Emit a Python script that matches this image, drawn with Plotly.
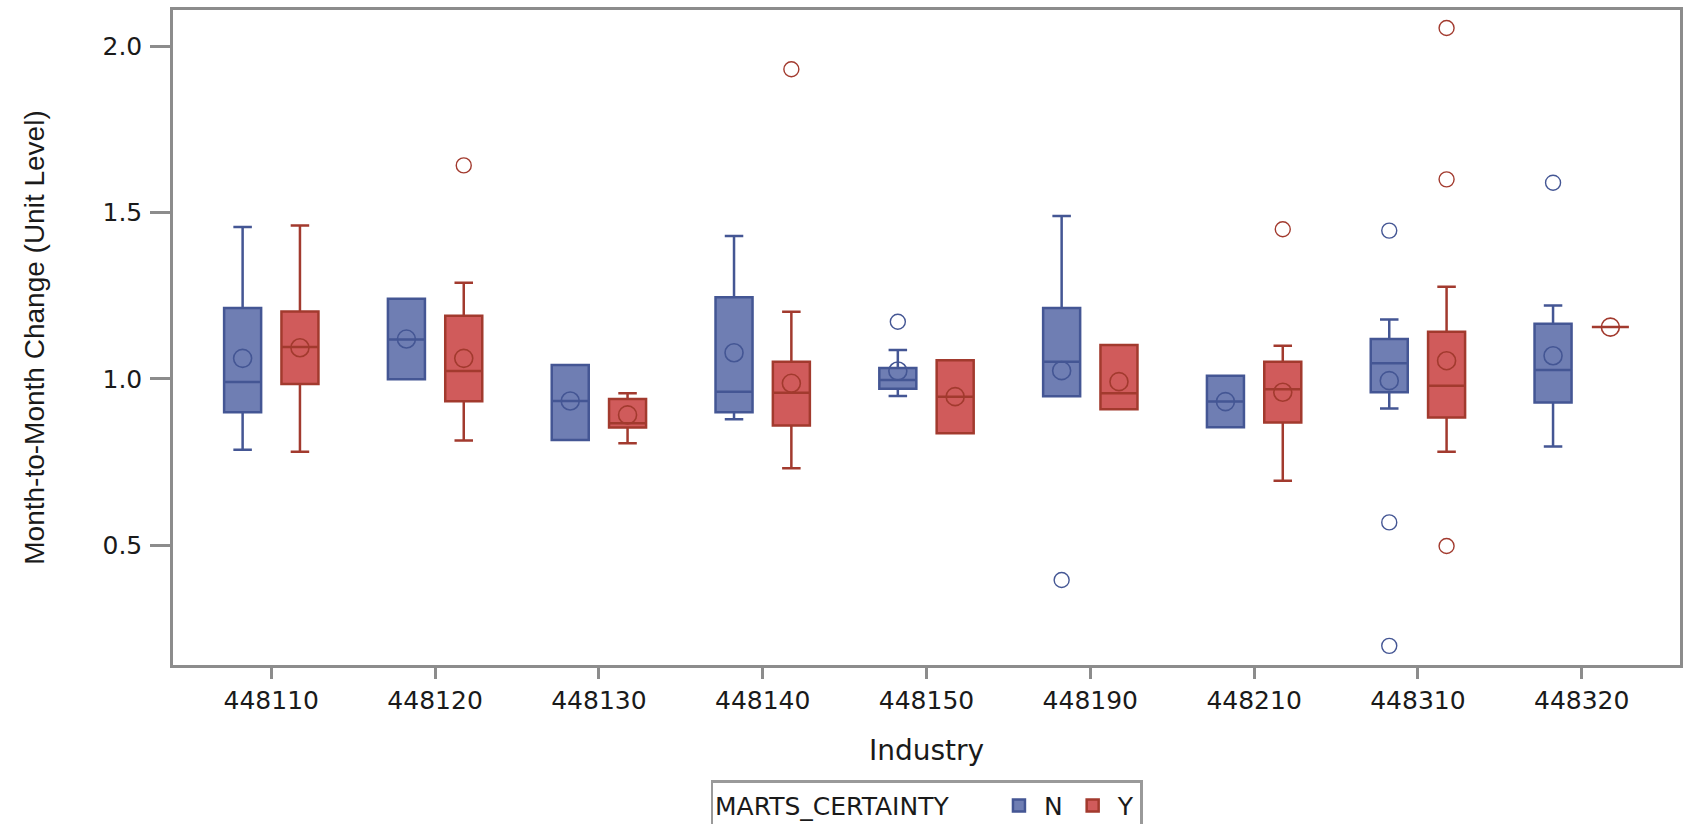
import plotly.graph_objects as go

# ---------------- data ----------------
categories = ['448110', '448120', '448130', '448140', '448150',
              '448190', '448210', '448310', '448320']

# group N
N_q1     = [0.900, 0.999, 0.817, 0.900, 0.971, 0.948, 0.855, 0.960, 0.929]
N_median = [0.991, 1.119, 0.934, 0.962, 0.997, 1.052, 0.932, 1.047, 1.027]
N_q3     = [1.213, 1.241, 1.042, 1.246, 1.033, 1.213, 1.010, 1.120, 1.166]
N_low    = [0.787, 0.999, 0.817, 0.879, 0.949, 0.948, 0.855, 0.911, 0.797]
N_high   = [1.457, 1.241, 1.042, 1.430, 1.087, 1.490, 1.010, 1.179, 1.221]
N_mean   = [1.062, 1.120, 0.934, 1.079, 1.024, 1.025, 0.932, 0.995, 1.070]

# group Y
Y_q1     = [0.985, 0.933, 0.854, 0.860, 0.837, 0.909, 0.869, 0.884, 1.156]
Y_median = [1.096, 1.024, 0.867, 0.959, 0.947, 0.957, 0.969, 0.980, 1.156]
Y_q3     = [1.203, 1.190, 0.940, 1.052, 1.056, 1.102, 1.052, 1.142, 1.156]
Y_low    = [0.781, 0.815, 0.807, 0.732, 0.837, 0.909, 0.694, 0.781, 1.156]
Y_high   = [1.461, 1.289, 0.957, 1.202, 1.056, 1.102, 1.100, 1.277, 1.156]
Y_mean   = [1.094, 1.062, 0.892, 0.987, 0.947, 0.992, 0.960, 1.055, 1.156]

# outliers
N_out_cat = ['448150', '448190', '448310', '448310', '448310', '448320']
N_out_val = [1.172, 0.396, 1.446, 0.569, 0.198, 1.590]
Y_out_cat = ['448120', '448140', '448210', '448310', '448310', '448310']
Y_out_val = [1.642, 1.931, 1.450, 2.055, 1.600, 0.498]

y_ticks = [0.5, 1.0, 1.5, 2.0]

# ---------------- style ----------------
FILL = {'N': '#6F7EB3', 'Y': '#D05B5B'}
LINE = {'N': '#445694', 'Y': '#A23A2E'}
OFFSET = {'N': -0.175, 'Y': 0.175}
BOX_W = 0.226
AXIS_COL = '#8C8C8C'
TXT = '#1a1a1a'

groups = {
    'N': dict(q1=N_q1, med=N_median, q3=N_q3, lo=N_low, hi=N_high, mean=N_mean,
              oc=N_out_cat, ov=N_out_val),
    'Y': dict(q1=Y_q1, med=Y_median, q3=Y_q3, lo=Y_low, hi=Y_high, mean=Y_mean,
              oc=Y_out_cat, ov=Y_out_val),
}

fig = go.Figure()
for g, d in groups.items():
    xpos = [i + OFFSET[g] for i in range(len(categories))]
    fig.add_trace(go.Box(
        name=g, x=xpos, q1=d['q1'], median=d['med'], q3=d['q3'],
        lowerfence=d['lo'], upperfence=d['hi'],
        width=BOX_W, whiskerwidth=0.5, boxpoints=False,
        fillcolor=FILL[g], line=dict(color=LINE[g], width=2.5),
        legendgroup=g, showlegend=True,
    ))
for g, d in groups.items():
    xpos = [i + OFFSET[g] for i in range(len(categories))]
    fig.add_trace(go.Scatter(
        x=xpos, y=d['mean'], mode='markers', showlegend=False, legendgroup=g,
        marker=dict(symbol='circle-open', size=18, color=LINE[g],
                    line=dict(width=1.6)),
    ))
    ox = [categories.index(c) + OFFSET[g] for c in d['oc']]
    fig.add_trace(go.Scatter(
        x=ox, y=d['ov'], mode='markers', showlegend=False, legendgroup=g,
        marker=dict(symbol='circle-open', size=15, color=LINE[g],
                    line=dict(width=1.4)),
    ))

fig.update_layout(
    width=1685, height=824,
    margin=dict(l=173, r=5, t=10, b=159, autoexpand=False),
    paper_bgcolor='white', plot_bgcolor='white',
    boxmode='overlay',
    font=dict(family='DejaVu Sans', color=TXT),
    legend=dict(
        orientation='h', x=0.5, xanchor='center', y=-0.176, yanchor='top',
        title=dict(text='MARTS_CERTAINTY     ', font=dict(size=25, family='DejaVu Sans')),
        font=dict(size=25, family='DejaVu Sans'),
        bordercolor='#9A9A9A', borderwidth=2.5, bgcolor='white',
        itemwidth=40,
    ),
)
fig.update_xaxes(
    range=[-0.6, len(categories) - 0.4],
    tickmode='array', tickvals=list(range(len(categories))), ticktext=categories,
    showline=True, mirror=True, linecolor=AXIS_COL, linewidth=2.5,
    ticks='outside', ticklen=11, tickwidth=3, tickcolor=AXIS_COL,
    tickfont=dict(size=25, family='DejaVu Sans', color=TXT),
    showgrid=False, zeroline=False,
    title=dict(text='Industry', font=dict(size=28, family='DejaVu Sans', color=TXT),
               standoff=27),
)
fig.update_yaxes(
    range=[0.1404, 2.109],
    tickmode='array', tickvals=y_ticks, ticktext=[f'{v:.1f}' for v in y_ticks],
    showline=True, mirror=True, linecolor=AXIS_COL, linewidth=2.5,
    ticks='outside', ticklen=20, tickwidth=3, tickcolor=AXIS_COL,
    tickfont=dict(size=25, family='DejaVu Sans', color=TXT),
    ticklabelstandoff=3,
    showgrid=False, zeroline=False,
    title=dict(text='Month-to-Month Change (Unit Level)',
               font=dict(size=28, family='Liberation Sans', color=TXT),
               standoff=50),
)

# remove the browser's default 8px body margin so the figure sits at the page origin
fig.write_html('out.html', config={'displayModeBar': False},
               post_script="document.body.style.margin='0';")
